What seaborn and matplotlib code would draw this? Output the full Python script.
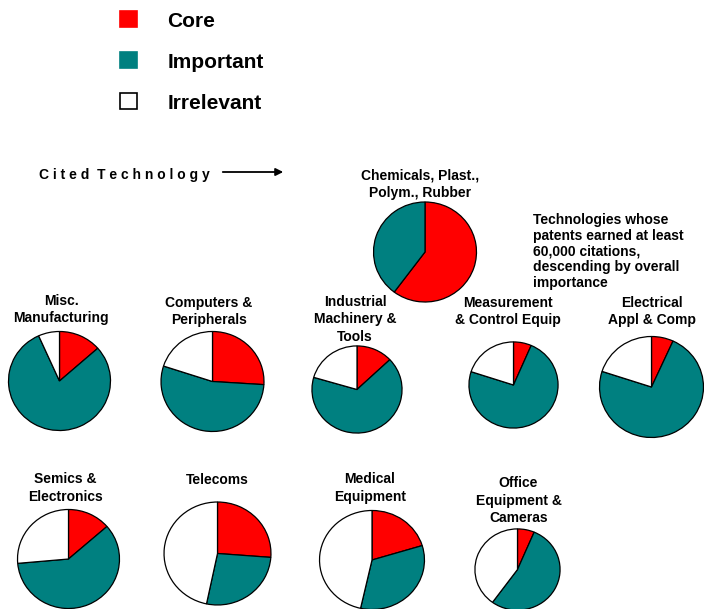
import matplotlib
matplotlib.use('Agg')
import matplotlib.pyplot as plt
from matplotlib.patches import Patch, FancyArrowPatch
import seaborn as sns

# shares of citations (%), read clockwise from 12 o'clock
technologies = [
    "Chemicals, Plast.,\nPolym., Rubber",
    "Misc.\nManufacturing",
    "Computers &\nPeripherals",
    "Industrial\nMachinery &\nTools",
    "Measurement\n& Control Equip",
    "Electrical\nAppl & Comp",
    "Semics &\nElectronics",
    "Telecoms",
    "Medical\nEquipment",
    "Office\nEquipment &\nCameras",
]
categories = ["Core", "Important", "Irrelevant"]
core = [60.2, 13.5, 26.0, 13.0, 6.5, 6.8, 13.6, 26.2, 20.3, 6.4]
important = [39.8, 79.8, 54.0, 66.5, 73.5, 73.2, 60.0, 27.1, 33.2, 53.6]
irrelevant = [0.0, 6.7, 20.0, 20.5, 20.0, 20.0, 26.4, 46.7, 46.5, 40.0]

# layout in pixels: pie centre x, y, radius x, y and title block centre x, y
pie_boxes = [
    (425, 252, 52, 50.5), (59.5, 381, 51.5, 50), (212.5, 381.5, 52, 50.5),
    (357, 389.5, 45.5, 44), (513.5, 385, 45, 43.5), (651.5, 387, 52.5, 51),
    (68.5, 559, 51.5, 50), (217.5, 553.5, 54, 52), (372, 560, 53, 50),
    (517.5, 569.5, 43, 41),
]
title_pos = [
    (420, 184), (61, 309.5), (209, 311.5), (355, 319.5), (507.5, 311.5),
    (651.5, 311.5), (65.5, 488), (217.5, 480), (370, 488), (518.5, 500.5),
]
colors = ["#ff0000", "#008080", "#ffffff"]

W, H = 704, 609

sns.set_theme(style="white")
plt.rcParams['font.family'] = ['Liberation Sans', 'DejaVu Sans']
plt.rcParams['text.color'] = 'black'

fig = plt.figure(figsize=(W / 100, H / 100), dpi=100)


def fx(px):
    return px / W


def fy(py):
    return 1 - py / H


for i, name in enumerate(technologies):
    cx, cy, rx, ry = pie_boxes[i]
    ax = fig.add_axes([fx(cx - rx), fy(cy + ry), 2 * rx / W, 2 * ry / H])
    vals = [core[i], important[i], irrelevant[i]]
    keep = [k for k, v in enumerate(vals) if v > 0]
    ax.pie([vals[k] for k in keep], colors=[colors[k] for k in keep],
           startangle=90, counterclock=False, radius=1,
           wedgeprops=dict(edgecolor='black', linewidth=0.9))
    ax.set_xlim(-1.01, 1.01)
    ax.set_ylim(-1.01, 1.01)
    ax.set_aspect('auto')
    ax.axis('off')
    tx, ty = title_pos[i]
    fig.text(fx(tx), fy(ty), name, ha='center', va='center',
             fontsize=10, fontweight='bold', linespacing=1.3)

# legend
handles = [Patch(facecolor=c, edgecolor='black' if c == "#ffffff" else c, linewidth=1.2)
           for c in colors]
fig.legend(handles, categories, loc='upper left',
           bbox_to_anchor=(fx(112), fy(3)), frameon=False,
           handlelength=0.8, handleheight=0.8,
           handletextpad=1.45, labelspacing=1.05, borderaxespad=0,
           prop=dict(weight='bold', size=15))

# cited technology arrow
fig.text(fx(39), fy(175), "C i t e d  T e c h n o l o g y", ha='left', va='center',
         fontsize=10, fontweight='bold')
fig.add_artist(FancyArrowPatch(
    (fx(220), fy(172)), (fx(286), fy(172)), transform=fig.transFigure,
    arrowstyle='-|>', mutation_scale=11, color='black', linewidth=1.3))

fig.text(fx(533), fy(213), "Technologies whose\npatents earned at least\n60,000 citations,\n"
         "descending by overall\nimportance", ha='left', va='top',
         fontsize=10, fontweight='bold', linespacing=1.15)

fig.savefig('out.png', dpi=100)
